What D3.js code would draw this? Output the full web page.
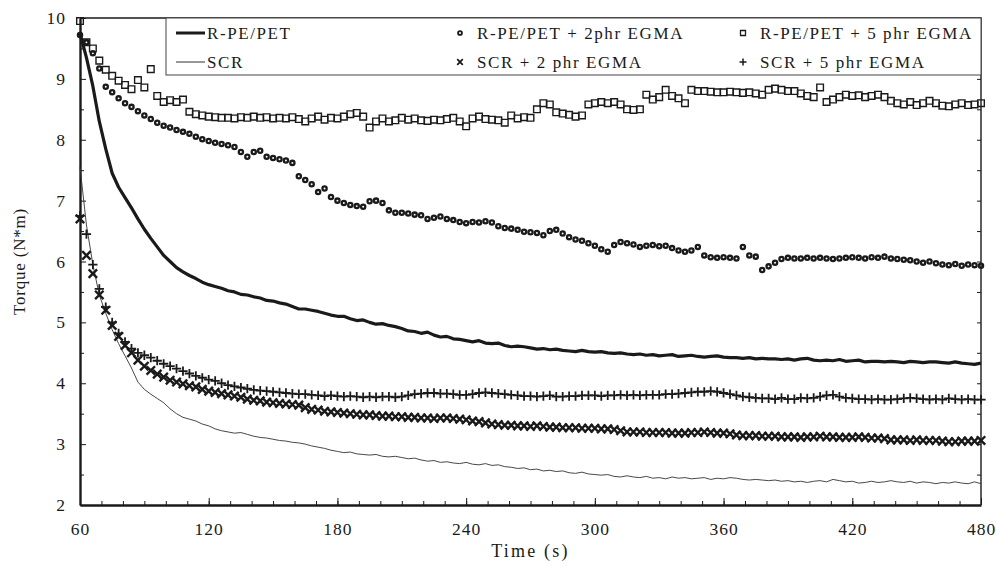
<!DOCTYPE html>
<html>
<head>
<meta charset="utf-8">
<script src="https://cdn.jsdelivr.net/npm/d3@7"></script>
<style>
  body { margin: 0; background: #fff; }
  text { font-family: "Liberation Serif", "Times New Roman", serif; fill: #1a1a1a; }
</style>
</head>
<body>
<script>
// sampling: one reading every 3 s from 60 to 480 s
var startTime = 60
var stepTime = 3

// torque readings (N*m)
var rpe = [9.75, 9.35, 8.88, 8.3, 7.85, 7.45, 7.22, 7.05, 6.88, 6.7,
  6.53, 6.38, 6.24, 6.1, 6.0, 5.9, 5.83, 5.77, 5.72, 5.66,
  5.62, 5.59, 5.56, 5.52, 5.5, 5.46, 5.45, 5.42, 5.4, 5.36,
  5.35, 5.32, 5.3, 5.26, 5.22, 5.22, 5.2, 5.18, 5.15, 5.12,
  5.1, 5.1, 5.06, 5.03, 5.04, 5.0, 4.97, 4.98, 4.95, 4.93,
  4.9, 4.86, 4.85, 4.82, 4.84, 4.79, 4.76, 4.77, 4.73, 4.72,
  4.7, 4.68, 4.7, 4.66, 4.65, 4.66, 4.62, 4.6, 4.61, 4.6,
  4.58, 4.56, 4.57, 4.55, 4.56, 4.54, 4.53, 4.52, 4.54, 4.52,
  4.51, 4.52, 4.5, 4.49, 4.5, 4.48, 4.47, 4.48, 4.46, 4.47,
  4.45, 4.46, 4.47, 4.44, 4.45, 4.46, 4.44, 4.43, 4.44, 4.45,
  4.43, 4.42, 4.42, 4.41, 4.42, 4.4, 4.41, 4.4, 4.4, 4.39,
  4.4, 4.38, 4.4, 4.41, 4.38, 4.37, 4.38, 4.37, 4.39, 4.36,
  4.37, 4.38, 4.35, 4.36, 4.36, 4.35, 4.36, 4.35, 4.34, 4.36,
  4.35, 4.34, 4.35, 4.35, 4.34, 4.33, 4.35, 4.33, 4.32, 4.31,
  4.33]

var scr = [7.55, 6.6, 5.95, 5.45, 5.15, 4.88, 4.65, 4.45, 4.25, 4.02,
  3.9, 3.82, 3.75, 3.68, 3.58, 3.5, 3.44, 3.41, 3.38, 3.33,
  3.3, 3.25, 3.22, 3.2, 3.18, 3.19, 3.16, 3.13, 3.11, 3.1,
  3.08, 3.06, 3.05, 3.03, 3.02, 3.0, 2.97, 2.95, 2.93, 2.9,
  2.88, 2.86, 2.87, 2.84, 2.83, 2.82, 2.83, 2.8, 2.79, 2.8,
  2.78, 2.76, 2.77, 2.74, 2.72, 2.73, 2.7, 2.71, 2.69, 2.68,
  2.7, 2.67, 2.66, 2.68, 2.65, 2.66, 2.63, 2.62, 2.6, 2.61,
  2.58, 2.59, 2.56, 2.57, 2.55, 2.56, 2.53, 2.52, 2.54, 2.51,
  2.5, 2.49, 2.5, 2.47, 2.46, 2.48, 2.46, 2.45, 2.47, 2.44,
  2.45, 2.43, 2.46, 2.44, 2.45, 2.43, 2.44, 2.45, 2.42, 2.44,
  2.43, 2.45, 2.44, 2.42, 2.41, 2.42, 2.41, 2.4, 2.41, 2.39,
  2.4, 2.38, 2.39, 2.37, 2.39, 2.4, 2.38, 2.42, 2.4, 2.38,
  2.39, 2.36, 2.37, 2.39, 2.37, 2.38, 2.4, 2.38, 2.37, 2.39,
  2.36, 2.38, 2.37, 2.35, 2.37, 2.36, 2.38, 2.36, 2.35, 2.38,
  2.35]

var rpe2 = [9.72, 9.6, 9.42, 9.17, 8.87, 8.78, 8.68, 8.6, 8.54, 8.47,
  8.4, 8.34, 8.28, 8.23, 8.2, 8.16, 8.13, 8.1, 8.05, 8.01,
  7.98, 7.95, 7.93, 7.91, 7.88, 7.8, 7.72, 7.8, 7.82, 7.72,
  7.7, 7.68, 7.66, 7.62, 7.4, 7.34, 7.27, 7.14, 7.2, 7.06,
  7.0, 6.96, 6.93, 6.91, 6.9, 6.99, 7.0, 6.96, 6.84, 6.8,
  6.8, 6.79, 6.77, 6.76, 6.7, 6.72, 6.74, 6.7, 6.68, 6.65,
  6.63, 6.65, 6.64, 6.66, 6.64, 6.58, 6.55, 6.54, 6.52, 6.49,
  6.48, 6.47, 6.43, 6.5, 6.52, 6.46, 6.4, 6.36, 6.34, 6.3,
  6.26, 6.2, 6.16, 6.27, 6.32, 6.3, 6.28, 6.24, 6.26, 6.27,
  6.25, 6.26, 6.22, 6.18, 6.16, 6.18, 6.24, 6.1, 6.07, 6.06,
  6.07, 6.06, 6.05, 6.24, 6.1, 6.08, 5.86, 5.92, 5.98, 6.04,
  6.06, 6.05, 6.05, 6.06, 6.05, 6.06, 6.05, 6.04, 6.05, 6.06,
  6.07, 6.06, 6.05, 6.07, 6.06, 6.08, 6.05, 6.04, 6.03, 6.02,
  6.0, 5.98, 6.0, 5.97, 5.95, 5.94, 5.96, 5.93, 5.95, 5.94,
  5.93]

var rpe5 = [9.95, 9.6, 9.5, 9.3, 9.15, 9.05, 8.97, 8.9, 8.83, 8.98,
  8.86, 9.16, 8.72, 8.62, 8.65, 8.62, 8.66, 8.46, 8.42, 8.4,
  8.38, 8.37, 8.36, 8.36, 8.35, 8.37, 8.36, 8.38, 8.36, 8.37,
  8.35, 8.36, 8.35, 8.37, 8.34, 8.3, 8.35, 8.38, 8.33, 8.36,
  8.35, 8.38, 8.42, 8.44, 8.38, 8.2, 8.3, 8.35, 8.3, 8.32,
  8.36, 8.33, 8.35, 8.32, 8.31, 8.33, 8.32, 8.34, 8.36, 8.3,
  8.22, 8.35, 8.38, 8.34, 8.33, 8.32, 8.28, 8.4, 8.35, 8.37,
  8.36, 8.5, 8.6, 8.58, 8.45, 8.43, 8.41, 8.38, 8.4, 8.58,
  8.6, 8.62, 8.6, 8.62, 8.58, 8.5, 8.49, 8.5, 8.74, 8.66,
  8.7, 8.82, 8.72, 8.68, 8.6, 8.82, 8.8, 8.8, 8.79, 8.78,
  8.78, 8.79, 8.78, 8.77, 8.78, 8.76, 8.74, 8.82, 8.84, 8.82,
  8.8, 8.8, 8.76, 8.72, 8.7, 8.86, 8.62, 8.66, 8.7, 8.74,
  8.72, 8.73, 8.7, 8.72, 8.74, 8.7, 8.64, 8.6, 8.58, 8.62,
  8.57, 8.6, 8.64, 8.6, 8.56, 8.55, 8.58, 8.6, 8.57, 8.58,
  8.6]

var scr2 = [6.7, 6.1, 5.8, 5.45, 5.2, 4.95, 4.77, 4.62, 4.5, 4.38,
  4.28, 4.21, 4.15, 4.1, 4.05, 4.02, 3.99, 3.96, 3.94, 3.9,
  3.87, 3.85, 3.83, 3.81, 3.79, 3.77, 3.74, 3.72, 3.71, 3.69,
  3.68, 3.67, 3.66, 3.65, 3.64, 3.6, 3.57, 3.56, 3.54, 3.53,
  3.52, 3.51, 3.5, 3.49, 3.48, 3.48, 3.47, 3.46, 3.46, 3.45,
  3.45, 3.44, 3.44, 3.43, 3.43, 3.42, 3.43, 3.43, 3.42, 3.41,
  3.4, 3.38, 3.37, 3.35, 3.33, 3.32, 3.31, 3.31, 3.3, 3.3,
  3.29, 3.3, 3.29, 3.28, 3.28, 3.27, 3.27, 3.27, 3.26, 3.26,
  3.26, 3.25, 3.25, 3.24, 3.22, 3.2, 3.2, 3.2, 3.19, 3.19,
  3.19, 3.19, 3.18, 3.18, 3.18, 3.19, 3.19, 3.2, 3.19, 3.18,
  3.18, 3.17, 3.15, 3.14, 3.14, 3.14, 3.13, 3.13, 3.13, 3.12,
  3.12, 3.12, 3.11, 3.12, 3.12, 3.13, 3.12, 3.12, 3.11, 3.11,
  3.11, 3.12, 3.11, 3.1, 3.1, 3.09, 3.07, 3.07, 3.07, 3.06,
  3.07, 3.06, 3.06, 3.06, 3.05, 3.04, 3.04, 3.05, 3.05, 3.05,
  3.06]

var scr5 = [6.75, 6.45, 5.95, 5.55, 5.25, 5.0, 4.82, 4.68, 4.57, 4.5,
  4.46, 4.42, 4.37, 4.32, 4.28, 4.24, 4.2, 4.16, 4.12, 4.09,
  4.06, 4.04, 4.0, 3.97, 3.95, 3.93, 3.91, 3.89, 3.88, 3.87,
  3.86, 3.85, 3.84, 3.83, 3.82, 3.82, 3.81, 3.8, 3.79, 3.8,
  3.79, 3.78, 3.79, 3.78, 3.77, 3.78, 3.77, 3.78, 3.78, 3.77,
  3.78, 3.8, 3.82, 3.83, 3.84, 3.84, 3.83, 3.83, 3.82, 3.81,
  3.81, 3.82, 3.84, 3.85, 3.84, 3.83, 3.82, 3.81, 3.8, 3.79,
  3.79, 3.78, 3.79, 3.8, 3.78, 3.78, 3.79, 3.79, 3.8, 3.8,
  3.8, 3.79, 3.8, 3.8, 3.81, 3.8, 3.81, 3.8, 3.81, 3.81,
  3.81, 3.82, 3.82, 3.83, 3.84, 3.85, 3.86, 3.86, 3.87, 3.86,
  3.84, 3.82, 3.8, 3.78, 3.77, 3.76, 3.75, 3.75, 3.74, 3.76,
  3.74, 3.74, 3.76, 3.75, 3.76, 3.78, 3.8, 3.81, 3.78, 3.76,
  3.75, 3.74, 3.74, 3.73, 3.74, 3.73, 3.73, 3.74, 3.75, 3.76,
  3.75, 3.74, 3.73, 3.74, 3.73, 3.75, 3.74, 3.73, 3.74, 3.73,
  3.73]

var legendNames = ['R-PE/PET', 'SCR', 'R-PE/PET + 2phr EGMA', 'SCR + 2 phr EGMA', 'R-PE/PET + 5 phr EGMA', 'SCR + 5 phr EGMA']
var xTicks = [60, 120, 180, 240, 300, 360, 420, 480]
var yTicks = [2, 3, 4, 5, 6, 7, 8, 9, 10]

var width = 997
var height = 567
var margin = {left: 80, right: 16, top: 18, bottom: 62}
var ink = '#1a1a1a'

var x = d3.scaleLinear().domain([60, 480]).range([margin.left, width - margin.right])
var y = d3.scaleLinear().domain([2, 10]).range([height - margin.bottom, margin.top])

var timeAt = i => startTime + i * stepTime

var svg = d3.select('body').append('svg').attr('width', width).attr('height', height)

// frame top + right (thin)
svg.append('path')
  .attr('d', `M${x(60)},${y(10)}H${x(480)}V${y(2)}`)
  .attr('fill', 'none').attr('stroke', ink).attr('stroke-width', 1.4)

// minor ticks (every 10 s, every 0.5 N*m), pointing inward
svg.append('g')
  .attr('transform', `translate(0,${y(2)})`)
  .call(d3.axisBottom(x).tickValues(d3.range(70, 480, 10)).tickSize(-4).tickFormat(''))
  .call(g => g.select('.domain').remove())
svg.append('g')
  .attr('transform', `translate(${x(60)},0)`)
  .call(d3.axisLeft(y).tickValues(d3.range(2.5, 10, 1)).tickSize(-4).tickFormat(''))
  .call(g => g.select('.domain').remove())
// right side ticks
svg.append('g')
  .attr('transform', `translate(${x(480)},0)`)
  .call(d3.axisRight(y).tickValues(d3.range(2.5, 10, 0.5)).tickSize(-4).tickFormat(''))
  .call(g => g.select('.domain').remove())

svg.append('g')
  .attr('transform', `translate(0,${y(2)})`)
  .call(d3.axisBottom(x).tickValues(xTicks).tickSize(-7).tickSizeOuter(0).tickPadding(18))
svg.append('g')
  .attr('transform', `translate(${x(60)},0)`)
  .call(d3.axisLeft(y).tickValues(yTicks).tickSize(-6).tickSizeOuter(0).tickPadding(14))

svg.selectAll('.tick line').attr('stroke', ink).attr('stroke-width', 1)
svg.selectAll('.domain').attr('stroke', ink).attr('stroke-width', 2.4)
svg.selectAll('.tick text')
  .style('font-family', '"Liberation Serif", serif')
  .style('font-size', '17.5px')
  .style('letter-spacing', '1px')
  .attr('fill', ink)

// axis titles
svg.append('text')
  .attr('x', (x(60) + x(480)) / 2).attr('y', 557)
  .attr('text-anchor', 'middle')
  .style('font-size', '18px').style('letter-spacing', '2.2px')
  .text('Time (s)')
svg.append('text')
  .attr('transform', `translate(25,${(y(2) + y(10)) / 2}) rotate(-90)`)
  .attr('text-anchor', 'middle')
  .style('font-size', '17px').style('letter-spacing', '0.8px')
  .text('Torque (N*m)')

// lines
var line = d3.line().x((d, i) => x(timeAt(i))).y(d => y(d))

svg.append('path').datum(scr)
  .attr('d', line).attr('fill', 'none').attr('stroke', '#333').attr('stroke-width', 0.9)
svg.append('path').datum(rpe)
  .attr('d', line).attr('fill', 'none').attr('stroke', ink).attr('stroke-width', 3.2).attr('stroke-linejoin', 'round')

// marker series
var markerSeries = [
  {values: scr2, shape: d3.symbolTimes, size: 48, width: 2.4},
  {values: scr5, shape: d3.symbolPlus, size: 30, width: 1.8},
  {values: rpe2, shape: d3.symbolCircle, size: 14, width: 2.3},
  {values: rpe5, shape: d3.symbolSquare, size: 44, width: 1.4}
]

markerSeries.forEach(function (s) {
  svg.append('g').selectAll('path')
    .data(s.values)
    .join('path')
    .attr('transform', (d, i) => `translate(${x(timeAt(i))},${y(d)})`)
    .attr('d', d3.symbol(s.shape, s.size))
    .attr('fill', 'none')
    .attr('stroke', ink)
    .attr('stroke-width', s.width)
})

// legend
var legend = svg.append('g')
legend.append('rect')
  .attr('x', 166).attr('y', y(10)).attr('width', x(480) - 166).attr('height', 57)
  .attr('fill', '#fff').attr('stroke', '#444').attr('stroke-width', 1)

var rows = [33, 62]
var cols = [176, 460, 743]

var legendItems = [
  {col: 0, row: 0, kind: 'line', w: 3},
  {col: 0, row: 1, kind: 'line', w: 0.9},
  {col: 1, row: 0, kind: d3.symbolCircle, size: 12, w: 1.8},
  {col: 1, row: 1, kind: d3.symbolTimes, size: 22, w: 1.8},
  {col: 2, row: 0, kind: d3.symbolSquare, size: 25, w: 1.3},
  {col: 2, row: 1, kind: d3.symbolPlus, size: 18, w: 1.5}
]

legendItems.forEach(function (it, k) {
  var cx = cols[it.col]
  var cy = rows[it.row]
  var tx
  if (it.kind === 'line') {
    legend.append('line')
      .attr('x1', cx).attr('x2', cx + 29).attr('y1', cy).attr('y2', cy)
      .attr('stroke', ink).attr('stroke-width', it.w)
    tx = cx + 31
  } else {
    legend.append('path')
      .attr('transform', `translate(${cx},${cy})`)
      .attr('d', d3.symbol(it.kind, it.size))
      .attr('fill', 'none').attr('stroke', ink).attr('stroke-width', it.w)
    tx = cx + 17
  }
  legend.append('text')
    .attr('x', tx).attr('y', cy).attr('dy', '0.35em')
    .style('font-size', '17px').style('letter-spacing', '1.6px')
    .text(legendNames[k])
})
</script>
</body>
</html>
